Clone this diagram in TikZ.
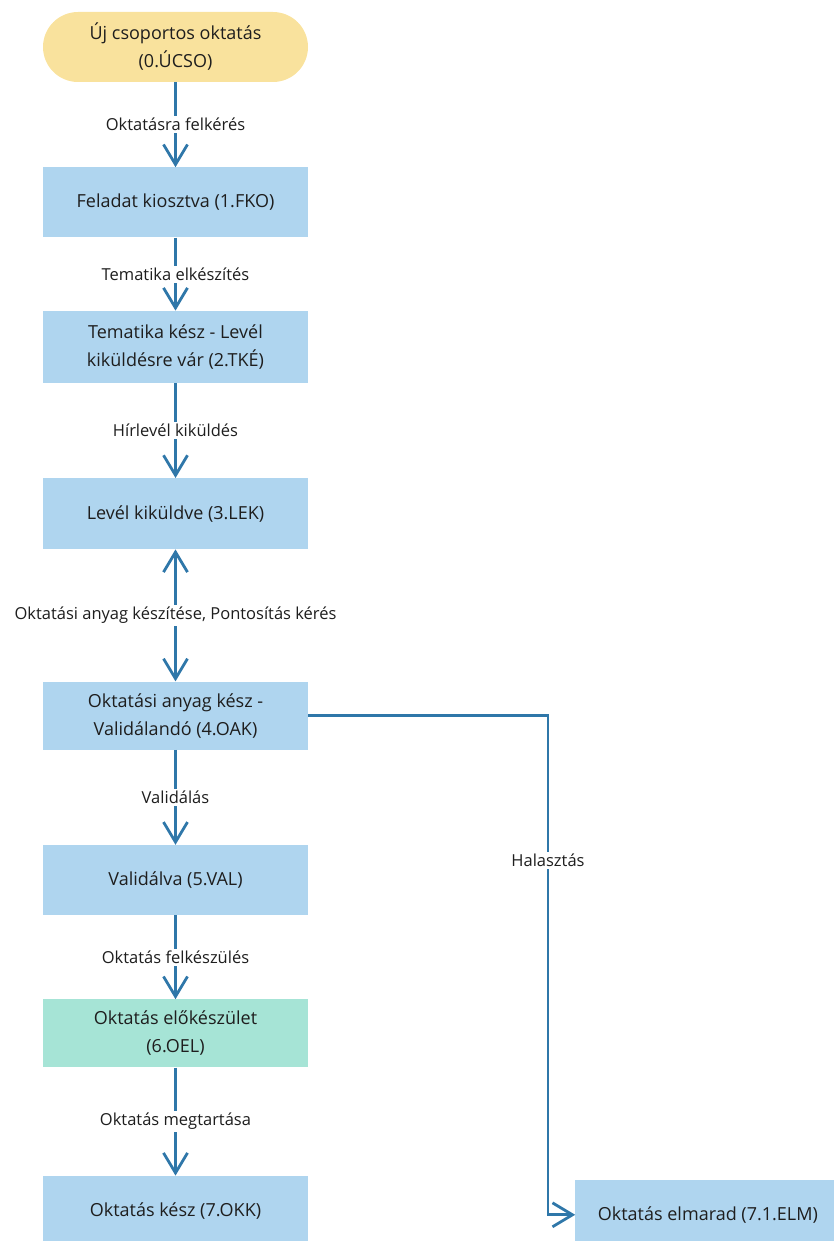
\documentclass[tikz,border=0pt]{standalone}
\usepackage{fontspec}
\setmainfont{Open Sans}
\usepackage{tikz}
\usetikzlibrary{positioning,arrows.meta,calc}
\definecolor{Flow}{HTML}{2F77A9}
\definecolor{StateBlue}{HTML}{AFD5EF}
\definecolor{StartYellow}{HTML}{F9E29D}
\definecolor{PrepGreen}{HTML}{A6E4D6}
\definecolor{Ink}{HTML}{1E1E1E}

\begin{document}
\begin{tikzpicture}[x=1pt,y=-1pt,
  state/.style={fill=StateBlue,text=Ink,minimum width=265pt,minimum height=70pt,inner sep=0pt,align=center,font=\fontsize{18}{28}\selectfont},
  lbl/.style={fill=white,text=Ink,inner sep=2pt,font=\fontsize{16.5}{20}\selectfont},
  flow/.style={draw=Flow,line width=2.8pt,-{Straight Barb[length=20pt,width=24pt,line width=2.8pt]}}]
\useasboundingbox (0,0) rectangle (833,1241);
% states, top to bottom
\node[state,fill=StartYellow,rounded corners=35pt] (ucso) at (175.5,47) {Új csoportos oktatás\\(0.ÚCSO)};
\node[state,below=85pt of ucso] (fko) {Feladat kiosztva (1.FKO)};
\node[state,below=73pt of fko,minimum height=72pt] (tke) {Tematika kész - Levél\\kiküldésre vár (2.TKÉ)};
\node[state,below=95pt of tke,minimum height=71pt] (lek) {Levél kiküldve (3.LEK)};
\node[state,below=132pt of lek,minimum height=68pt] (oak) {Oktatási anyag kész -\\Validálandó (4.OAK)};
\node[state,below=95pt of oak] (val) {Validálva (5.VAL)};
\node[state,fill=PrepGreen,below=84pt of val,minimum height=68pt] (oel) {Oktatás előkészület\\(6.OEL)};
\node[state,below=108pt of oel] (okk) {Oktatás kész (7.OKK)};
\node[state,right=267pt of okk,yshift=-4pt] (elm) {Oktatás elmarad (7.1.ELM)};
\coordinate (halx) at (548,0);
% transitions
\draw[flow] (ucso) -- node[lbl] {Oktatásra felkérés} (fko);
\draw[flow] (fko) -- node[lbl] {Tematika elkészítés} (tke);
\draw[flow] (tke) -- node[lbl] {Hírlevél kiküldés} (lek);
\draw[flow,{Straight Barb[length=20pt,width=24pt,line width=2.8pt]}-{Straight Barb[length=20pt,width=24pt,line width=2.8pt]}] (lek) -- node[lbl] {Oktatási anyag készítése, Pontosítás kérés} (oak);
\draw[flow] (oak) -- node[lbl] {Validálás} (val);
\draw[flow] (val) -- node[lbl] {Oktatás felkészülés} (oel);
\draw[flow] (oel) -- node[lbl] {Oktatás megtartása} (okk);
\draw[flow] (oak.east) -- (oak.east -| halx) -- node[lbl,pos=0.29] {Halasztás} (elm.west -| halx) -- (elm.west);
\end{tikzpicture}
\end{document}
